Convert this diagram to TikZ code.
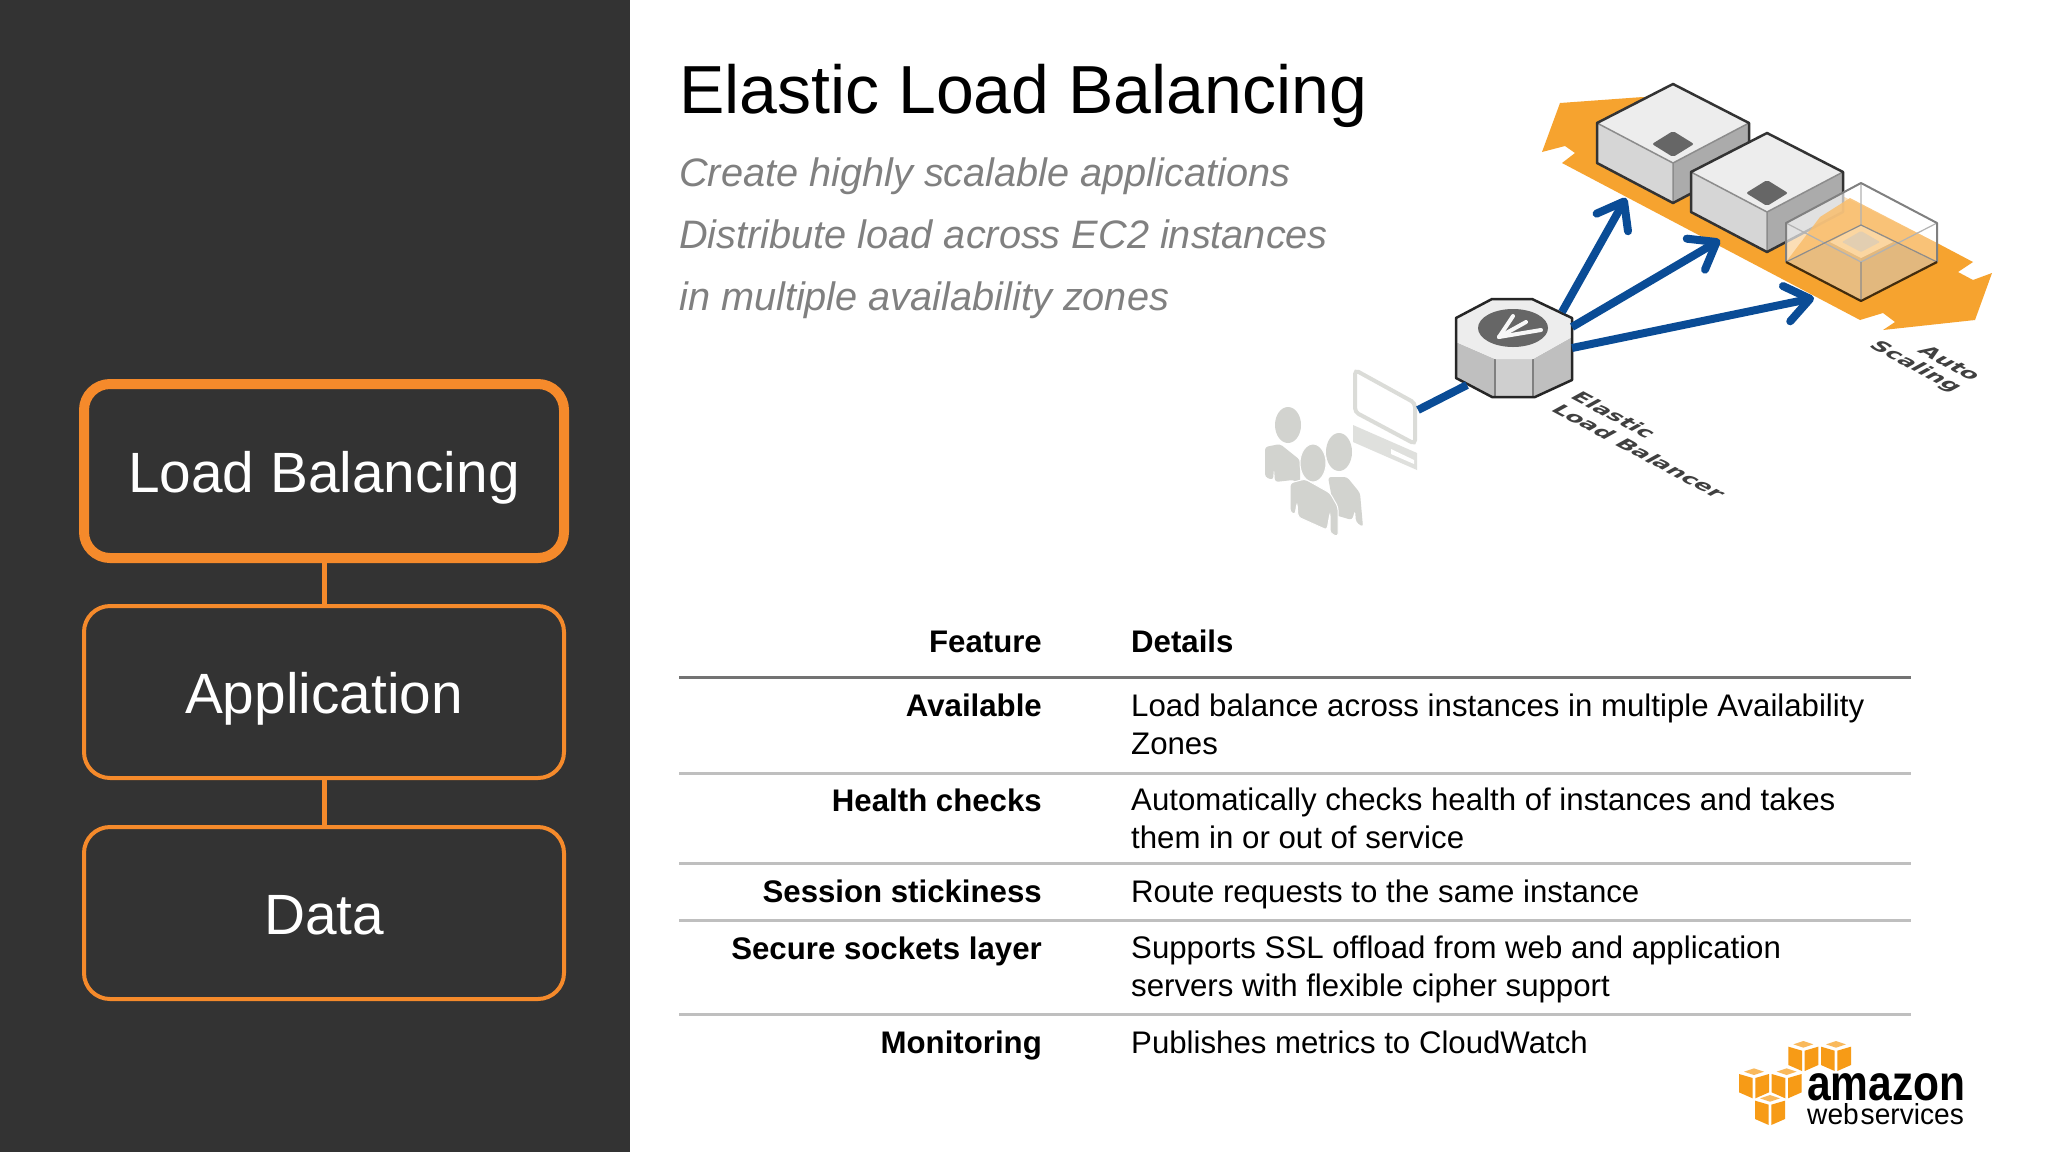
\documentclass[tikz,border=0pt]{standalone}
\usepackage{fontspec}
\setmainfont{Liberation Sans}
\newfontfamily\labelfont{DejaVu Sans}
\usetikzlibrary{arrows.meta}
\definecolor{awsOrange}{HTML}{F58A2B}
\definecolor{bandOrange}{HTML}{F6A32F}
\definecolor{panelGrey}{HTML}{333333}
\definecolor{lineBlue}{HTML}{0A4C96}
\definecolor{peopleGrey}{HTML}{D2D3CF}
\definecolor{logoOrange}{HTML}{F79B16}
\tikzstyle{tierBox} = [draw=awsOrange,line width=4pt,rounded corners=26pt,minimum width=480pt,minimum height=172pt,text=white,text height=43pt,text depth=0pt,font=\fontsize{56.8}{66}\selectfont]
\tikzstyle{keyText} = [anchor=base east,inner sep=0pt,font=\fontsize{31.2}{38}\selectfont\bfseries]
\tikzstyle{oneText} = [anchor=base west,inner sep=0pt,font=\fontsize{31.2}{38}\selectfont]
\tikzstyle{valText} = [anchor=west,inner sep=0pt,align=left,font=\fontsize{31.2}{38}\selectfont]
\tikzstyle{subText} = [anchor=base west,inner sep=0pt,text=black!50,font=\fontsize{39.7}{48}\selectfont\itshape]
\tikzstyle{isoText} = [inner sep=0pt,font=\fontsize{17}{20}\selectfont\labelfont\bfseries,text=black!75,transform shape,cm={1.22,-0.65,1.0,0.55,(0,0)}]
\tikzstyle{blueLine} = [draw=lineBlue,line width=8pt]
\tikzstyle{blueArrow} = [blueLine,-{Straight Barb[length=24pt,width=36pt,line width=8pt,round]}]

\begin{document}
\begin{tikzpicture}[x=1pt,y=-1pt]
			\useasboundingbox (0,0) rectangle (2048,1152);
			\fill[white] (0,0) rectangle (2048,1152);
			\fill[panelGrey] (0,0) rectangle (630,1152);
			
			% left column
			\node[tierBox,line width=10pt,minimum height=174pt] (n1) at (324,471) {Load Balancing};
			\node[tierBox] (n2) at (324,692) {Application};
			\node[tierBox] (n3) at (324,913) {Data};
			\draw[awsOrange,line width=5pt] (n1.south)--(n2.north);
			\draw[awsOrange,line width=5pt] (n2.south)--(n3.north);
			
			% heading
			\node[anchor=base west,inner sep=0pt,font=\fontsize{68}{80}\selectfont] (t1) at (679,113) {Elastic Load Balancing};
			\node[subText] (t2) at (679,186) {Create highly scalable applications};
			\node[subText] (t3) at (679,248) {Distribute load across EC2 instances};
			\node[subText] (t4) at (679,310) {in multiple availability zones};
			
			% table
			\draw[black!55,line width=3pt] (679,677)--(1911,677);
			\foreach \ry in {773,863,920,1014}
				\draw[black!25,line width=3pt] (679,\ry)--(1911,\ry);
			\node[keyText] (k1) at (1042,652) {Feature};
			\node[keyText] (k2) at (1042,716) {Available};
			\node[keyText] (k3) at (1042,811) {Health checks};
			\node[keyText] (k4) at (1042,902) {Session stickiness};
			\node[keyText] (k5) at (1042,959) {Secure sockets layer};
			\node[keyText] (k6) at (1042,1053) {Monitoring};
			\node[oneText,font=\fontsize{31.2}{38}\selectfont\bfseries] (v1) at (1131,652) {Details};
			\node[valText] (v2) at (1131,724) {Load balance across instances in multiple Availability\\Zones};
			\node[valText] (v3) at (1131,818) {Automatically checks health of instances and takes\\them in or out of service};
			\node[oneText] (v4) at (1131,902) {Route requests to the same instance};
			\node[valText] (v5) at (1131,969) {Supports SSL offload from web and application\\servers with flexible cipher support};
			\node[oneText] (v6) at (1131,1053) {Publishes metrics to CloudWatch};
			
			% orange band
			\fill[bandOrange] (1560,103)--(1643,97)--(1937,243)--(1973,262)--(1958,272)--(1973,280)--(1992,273)--(1975,320)--(1883,330)--(1895,322)--(1883,313)--(1860,320)--(1562,163)--(1575,153)--(1565,146)--(1542,152)--cycle;
			
			% two solid cubes
			\foreach \cx/\cy in {1673/84,1767/133} {
				\fill[black!33] (\cx,\cy+79)--(\cx+76,\cy+39)--(\cx+76,\cy+79)--(\cx,\cy+119)--cycle;
				\fill[black!16] (\cx-76,\cy+39)--(\cx,\cy+79)--(\cx,\cy+119)--(\cx-76,\cy+79)--cycle;
				\fill[black!7] (\cx,\cy)--(\cx+76,\cy+39)--(\cx,\cy+79)--(\cx-76,\cy+39)--cycle;
				\draw[black!45,line width=1.5pt] (\cx-76,\cy+39)--(\cx,\cy+79)--(\cx+76,\cy+39) (\cx,\cy+79)--(\cx,\cy+119);
				\draw[black!80,line width=2.5pt,line join=round] (\cx,\cy)--(\cx+76,\cy+39)--(\cx+76,\cy+79)--(\cx,\cy+119)--(\cx-76,\cy+79)--(\cx-76,\cy+39)--cycle;
				\fill[black!60,rounded corners=2pt] (\cx,\cy+47)--(\cx+21,\cy+60)--(\cx,\cy+73)--(\cx-21,\cy+60)--cycle;
			}
			
			% third one, see-through
			\fill[white,fill opacity=0.65] (1861,183)--(1937,223)--(1937,262)--(1861,301)--(1786,262)--(1786,223)--cycle;
			\fill[bandOrange!70!white,fill opacity=0.85] (1820,217)--(1850,198)--(1937,243)--(1937,262)--(1861,301)--(1786,262)--cycle;
			\fill[black!12!bandOrange!60!white] (1786,262)--(1830,242)--(1861,258)--(1861,301)--cycle;
			\fill[black!16!bandOrange!60!white] (1861,301)--(1861,258)--(1893,242)--(1937,262)--cycle;
			\fill[bandOrange!45!white] (1861,225)--(1893,242)--(1861,258)--(1830,242)--cycle;
			\fill[black!30!bandOrange!35!white,rounded corners=1pt] (1861,231)--(1880,242)--(1861,252)--(1842,242)--cycle;
			\draw[black!30,line width=1.2pt] (1786,223)--(1861,262)--(1937,223) (1861,183)--(1861,225);
			\draw[black!45,line width=1.2pt] (1786,262)--(1861,225)--(1937,262) (1861,262)--(1861,301);
			\draw[black!50,line width=2pt,line join=round] (1786,262)--(1786,223)--(1861,183)--(1937,223)--(1937,262);
			\draw[black!55!bandOrange!60!black,line width=2.2pt,line join=round] (1786,262)--(1861,301)--(1937,262);
			
			% client side
			\draw[peopleGrey!80,line width=4pt,rounded corners=4pt,fill=white] (1355,370)--(1415,403)--(1415,444)--(1355,412)--cycle;
			\fill[peopleGrey!70] (1353,425)--(1417,453)--(1417,470)--(1353,442)--cycle;
			\fill[white] (1391,449)--(1414,460)--(1414,464)--(1391,454)--cycle;
			\fill[peopleGrey] (1288,425) ellipse [x radius=13,y radius=18];
			\fill[peopleGrey] (1339,452) ellipse [x radius=13,y radius=19];
			\fill[peopleGrey,rounded corners=3pt] (1265,447)--(1280,444)--(1300,460)--(1300,483)--(1293,480)--(1275,482)--(1274,468)--(1273,480)--(1265,477)--cycle;
			\fill[peopleGrey,rounded corners=3pt] (1328,477)--(1347,477)--(1360,493)--(1363,527)--(1356,522)--(1355,510)--(1352,520)--(1335,515)--cycle;
			\draw[white,line width=1pt,fill=peopleGrey] (1313,463) ellipse [x radius=13,y radius=19];
			\draw[white,line width=1pt,fill=peopleGrey,rounded corners=3pt] (1290,483)--(1305,479)--(1330,493)--(1338,507)--(1338,537)--(1330,533)--(1330,513)--(1327,530)--(1298,517)--(1297,503)--(1295,515)--(1290,512)--cycle;
			
			% load balancer
			\fill[black!25] (1456,342)--(1495,359)--(1533,359)--(1572,337)--(1572,380)--(1535,397)--(1492,397)--(1456,378)--cycle;
			\fill[black!19] (1495,359)--(1533,359)--(1533,397)--(1495,397)--cycle;
			\draw[black!50,line width=1.2pt] (1495,359)--(1495,397) (1533,359)--(1533,397);
			\fill[black!7] (1492,299)--(1532,299)--(1572,318)--(1572,337)--(1533,359)--(1495,359)--(1456,342)--(1456,318)--cycle;
			\draw[black!85,line width=2.5pt,line join=round] (1492,299)--(1532,299)--(1572,318)--(1572,380)--(1535,397)--(1492,397)--(1456,378)--(1456,318)--cycle;
			\fill[black!60] (1513,328) ellipse [x radius=35,y radius=19];
			\foreach \rx/\ry in {1513/316,1526/322,1541/330}
				\draw[black!3,line width=4pt,line cap=round] (1499,337)--(\rx,\ry);
			
			% connectors
			\coordinate (a0) at (1418,410);
			\coordinate (a1) at (1467,385);
			\coordinate (b1) at (1562,312);
			\coordinate (b2) at (1572,327);
			\coordinate (b3) at (1572,348);
			\coordinate (c1) at (1626,198);
			\coordinate (c2) at (1720,240);
			\coordinate (c3) at (1814,298);
			\draw[blueLine] (a0)--(a1);
			\draw[blueArrow] (b1)--(c1);
			\draw[blueArrow] (b2)--(c2);
			\draw[blueArrow] (b3)--(c3);
			
			\node[isoText] (i1) at (1614,415) {Elastic};
			\node[isoText] (i2) at (1639,451) {Load Balancer};
			\node[isoText] (i3) at (1950,363) {Auto};
			\node[isoText] (i4) at (1915,367) {Scaling};
			
			% logo
			\begin{scope}[shift={(1700,1010)},x=0.3333pt,y=0.3333pt,yscale=-1]
				\foreach \lx/\ly in {310/93,408/93,162/175,260/175,210/255} {
					\fill[logoOrange!70] (\lx,\ly)--(\lx+30,\ly+10)--(\lx,\ly+20)--(\lx-30,\ly+10)--cycle;
					\fill[logoOrange] (\lx-45,\ly+17)--(\lx-4,\ly+29)--(\lx-4,\ly+90)--(\lx-45,\ly+72)--cycle;
					\fill[logoOrange] (\lx+45,\ly+17)--(\lx+4,\ly+29)--(\lx+4,\ly+90)--(\lx+45,\ly+72)--cycle;
				}
			\end{scope}
			\node[anchor=west,inner sep=0pt,font=\fontsize{50}{50}\selectfont\bfseries] (l1) at (1807,1087) {\scalebox{0.85}[1]{amazon}};
			\node[anchor=west,inner sep=0pt,font=\fontsize{29}{29}\selectfont] (l2) at (1807,1114) {\scalebox{0.97}[1]{web\kern2pt services}};
		\end{tikzpicture}
\end{document}
